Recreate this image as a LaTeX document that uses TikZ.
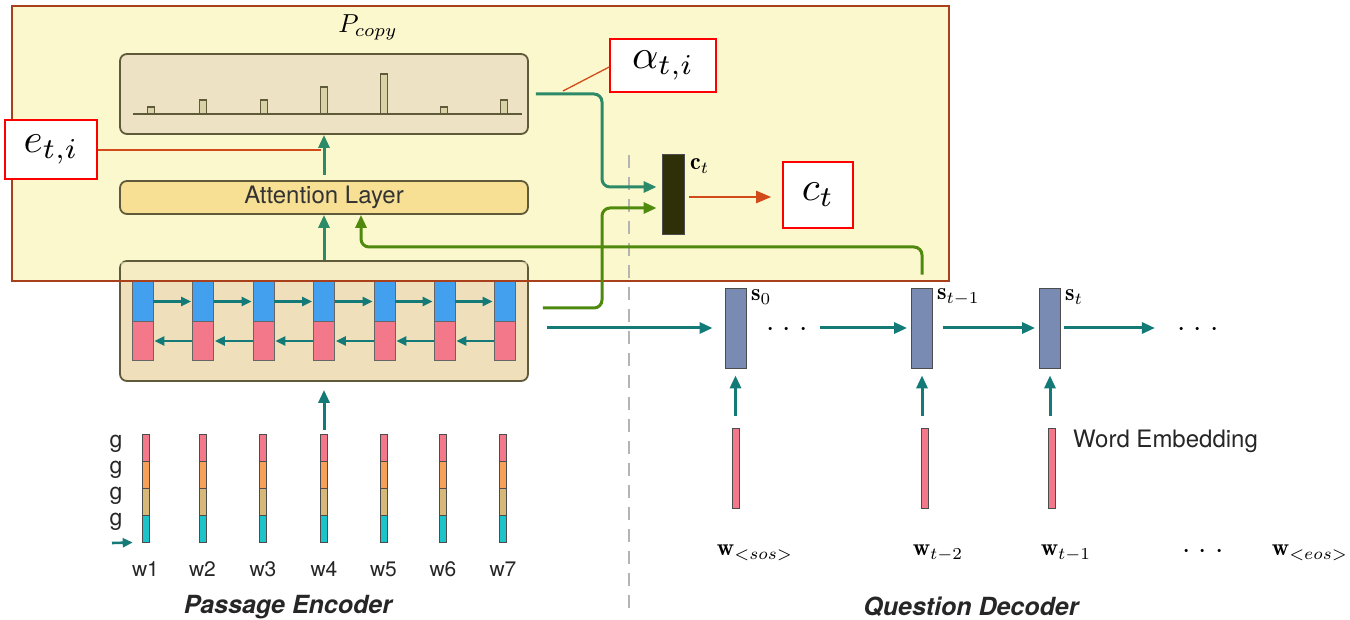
\documentclass[tikz,border=0pt]{standalone}
\usepackage{fontspec}
\setsansfont{TeX Gyre Heros}
\usetikzlibrary{arrows.meta}
\definecolor{yfill}{HTML}{FCF8CD}
\definecolor{yborder}{HTML}{A8401C}
\definecolor{distfill}{HTML}{EDE3C4}
\definecolor{olive}{HTML}{5F5A3A}
\definecolor{barfill}{HTML}{D9D2A6}
\definecolor{attfill}{HTML}{F7DF94}
\definecolor{encfill}{HTML}{EFDFBA}
\definecolor{cblue}{HTML}{42A0EE}
\definecolor{cpink}{HTML}{F2788A}
\definecolor{tealc}{HTML}{137A78}
\definecolor{gteal}{HTML}{2D8A68}
\definecolor{greenc}{HTML}{4F8A0E}
\definecolor{orc}{HTML}{D24A1A}
\definecolor{ctdark}{HTML}{2F2F08}
\definecolor{sblue}{HTML}{7A8BB3}
\definecolor{eorange}{HTML}{F5A15A}
\definecolor{etan}{HTML}{D6B978}
\definecolor{ecyan}{HTML}{1CC3C9}
\definecolor{dashg}{HTML}{B4B4B0}
\newcommand{\msc}[2]{\scalebox{#1}{$#2$}}
\newcommand{\mdots}{\msc{3}{{\cdot}\;{\cdot}\;{\cdot}}}
\begin{document}
\begin{tikzpicture}[x=1pt,y=-1pt,
  tealarr/.style={draw=tealc,line width=3pt,-{Triangle[length=13pt,width=11pt]}},
  smallarr/.style={draw=tealc,line width=2.6pt,-{Triangle[length=10pt,width=9pt]}},
  gtarr/.style={draw=gteal,line width=3pt,-{Triangle[length=13pt,width=11pt]}},
  greenarr/.style={draw=greenc,line width=3pt,-{Triangle[length=13pt,width=11pt]}},
  redbox/.style={draw=red,line width=1.6pt,fill=white,inner sep=0},
  bigbox/.style={draw=olive,line width=1.8pt,rounded corners=7pt,inner sep=0},
  cellbox/.style={draw=black!60,line width=0.8pt,inner sep=0,minimum width=21,minimum height=39.5},
  embseg/.style={draw=black!70,line width=0.6pt,inner sep=0,minimum width=7,minimum height=27},
  sbar/.style={draw=black!70,line width=0.8pt,fill=sblue,inner sep=0,minimum width=21,minimum height=80},
  pbar/.style={draw=black!70,line width=0.8pt,fill=cpink,inner sep=0,minimum width=7,minimum height=80},
  sflab/.style={font=\sffamily\fontsize{21}{24}\selectfont,inner sep=0,text=black!85},
  mlab/.style={inner sep=0},
  titlab/.style={font=\sffamily\bfseries\itshape\fontsize{25}{28}\selectfont,text=black!85}]
\useasboundingbox (0,0) rectangle (1350,620);
% yellow region
\node (ybox) [fill=yfill,inner sep=0,minimum width=937,minimum height=275,anchor=north west] at (12,6) {};
\node (pcopy) [inner sep=0] at (368,27) {\msc{2.6}{P_{copy}}};
% dashed separator
\coordinate (dtop) at (629,155);
\coordinate (dbot) at (629,612);
\draw[dashg,line width=2.6pt,dash pattern=on 13pt off 9pt] (dtop) -- (dbot);
% attention distribution box
\node (dist) [bigbox,fill=distfill,minimum width=408,minimum height=80] at (324,94) {};
\foreach \x/\t in {151/107,203/100,264/100,324/87,384/74,444/107,504/100}
  \draw[olive,line width=1.4pt,fill=barfill] (\x-3.5,114) rectangle (\x+3.5,\t);
\draw[olive,line width=1.8pt] (133,114) -- (522,114);
% attention layer
\node (att) [bigbox,fill=attfill,minimum width=408,minimum height=33,font=\sffamily\fontsize{24}{26}\selectfont,text=black!80] at (324,197.5) {Attention Layer};
% encoder
\node (enc) [bigbox,fill=encfill,minimum width=408,minimum height=120] at (324,321) {};
\fill[yfill,opacity=0.55] (121,262) rectangle (527,281);
\foreach \i/\x in {1/142.5,2/203,3/263.5,4/324,5/384.5,6/444.5,7/504.5}{
  \node (b\i) [cellbox,fill=cblue] at (\x,301.5) {};
  \node (p\i) [cellbox,fill=cpink] at (\x,341) {};
}
\foreach \i/\j in {1/2,2/3,3/4,4/5,5/6,6/7}{
  \draw[smallarr,shorten >=1pt] (b\i.east) -- (b\j.west);
  \draw[smallarr,shorten >=1pt] (p\j.west) -- (p\i.east);
}
% yellow border on top
\draw[yborder,line width=2pt] (ybox.north west) rectangle (ybox.south east);
% arrows inside
\draw[gtarr] (enc.north) -- (att.south);
\draw[gtarr,shorten <=5pt] (att.north) -- (dist.south);
% labels e, alpha
\node (ebox) [redbox,minimum width=92,minimum height=59] at (51,149.5) {};
\node at (ebox.center) {\msc{4.1}{e_{t,i}}};
\draw[orc,line width=1.3pt] (ebox.east |- 0,150) -- (321,150);
\node (abox) [redbox,minimum width=106,minimum height=53] at (663,65.5) {};
\node at (abox.center) {\msc{4.1}{\alpha_{t,i}}};
\coordinate (aline) at (563,91);
\draw[orc,line width=1.3pt] (abox.south west |- 0,67) -- (aline);
% context vector
\node (ctbar) [draw=black!70,line width=0.8pt,fill=ctdark,inner sep=0,minimum width=22,minimum height=80] at (673,194) {};
\node [anchor=west,inner sep=0] at (690,166) {\msc{2.4}{\mathbf{c}_t}};
\node (ctbox) [redbox,minimum width=70,minimum height=66] at (818,195) {};
\node at (ctbox.center) {\msc{4.1}{c_t}};
\draw[gtarr,rounded corners=8pt,shorten <=7pt,shorten >=5pt] (dist.east) -- (602,94) -- (602,187) -- (ctbar.west |- 0,187);
\draw[greenarr,rounded corners=8pt,shorten <=14pt,shorten >=5pt] (enc.east |- 0,308) -- (602,308) -- (602,208) -- (ctbar.west |- 0,208);
\draw[draw=orc,line width=2.4pt,-{Triangle[length=15pt,width=12pt]},shorten <=5pt,shorten >=11pt] (ctbar.east |- 0,197) -- (ctbox.west |- 0,197);
% decoder
\node (s0) [sbar] at (735.5,328) {};
\node (st1) [sbar] at (922,328) {};
\node (st) [sbar] at (1050,328) {};
\node [mlab,anchor=west] at (751,297) {\msc{2.4}{\mathbf{s}_0}};
\node [mlab,anchor=west] at (937,297) {\msc{2.4}{\mathbf{s}_{t-1}}};
\node [mlab,anchor=west] at (1065,297) {\msc{2.4}{\mathbf{s}_t}};
\node (d1) [inner sep=0] at (787,330) {\mdots};
\node (d2) [inner sep=0] at (1198,330) {\mdots};
\coordinate (encout) at (547,328);
\draw[tealarr,shorten >=12pt] (encout) -- (s0.west);
\draw[tealarr,shorten <=12pt,shorten >=4pt] (d1.east |- 0,328) -- (st1.west);
\draw[tealarr,shorten <=10pt,shorten >=4pt] (st1.east) -- (st.west);
\draw[tealarr,shorten <=3pt,shorten >=22pt] (st.east) -- (d2.west |- 0,328);
% green feedback to attention
\draw[draw=greenc,line width=3pt,rounded corners=8pt,-{Triangle[length=13pt,width=11pt]},shorten <=13pt] (st1.north) -- (922,247) -- (361,247) -- (att.south -| 361,0);
% decoder embeddings
\node (e0) [pbar] at (735.5,468) {};
\node (e1) [pbar] at (925,468) {};
\node (e2) [pbar] at (1052,468) {};
\draw[tealarr,shorten <=12pt,shorten >=7pt] (s0.south |- e0.north) -- (s0.south);
\draw[tealarr,shorten <=12pt,shorten >=7pt] (st1.south |- e1.north) -- (st1.south);
\draw[tealarr,shorten <=12pt,shorten >=7pt] (st.south |- e2.north) -- (st.south);
\node [sflab,font=\sffamily\fontsize{24}{26}\selectfont,anchor=west] at (1073,441) {Word Embedding};
\node [mlab] at (755,553) {\msc{2.4}{\mathbf{w}_{<sos>}}};
\node [mlab] at (938,553) {\msc{2.4}{\mathbf{w}_{t-2}}};
\node [mlab] at (1066,553) {\msc{2.4}{\mathbf{w}_{t-1}}};
\node [inner sep=0] at (1203,552) {\mdots};
\node [mlab] at (1310,553) {\msc{2.4}{\mathbf{w}_{<eos>}}};
% passage embeddings
\foreach \i/\x in {1/145.5,2/202.5,3/263,4/324,5/383.5,6/443,7/503}{
  \node (ea\i) [embseg,fill=cpink] at (\x,447.5) {};
  \node (eb\i) [embseg,fill=eorange] at (\x,474.5) {};
  \node (ec\i) [embseg,fill=etan] at (\x,501.5) {};
  \node (ed\i) [embseg,fill=ecyan] at (\x,528.5) {};
  \node (w\i) [sflab] at (\x,569) {w\i};
}
\foreach \y in {444,470,496,522}
  \node [sflab,font=\sffamily\fontsize{23}{24}\selectfont] at (116,\y) {g};
\coordinate (inarr) at (112,543);
\draw[smallarr,shorten >=9pt] (inarr) -- (ed1.south west);
\draw[tealarr,shorten <=4pt,shorten >=8pt] (ea4.north) -- (enc.south);
% titles
\node [titlab] at (288,607) {Passage Encoder};
\node [titlab] at (971,607) {Question Decoder};
\end{tikzpicture}
\end{document}
